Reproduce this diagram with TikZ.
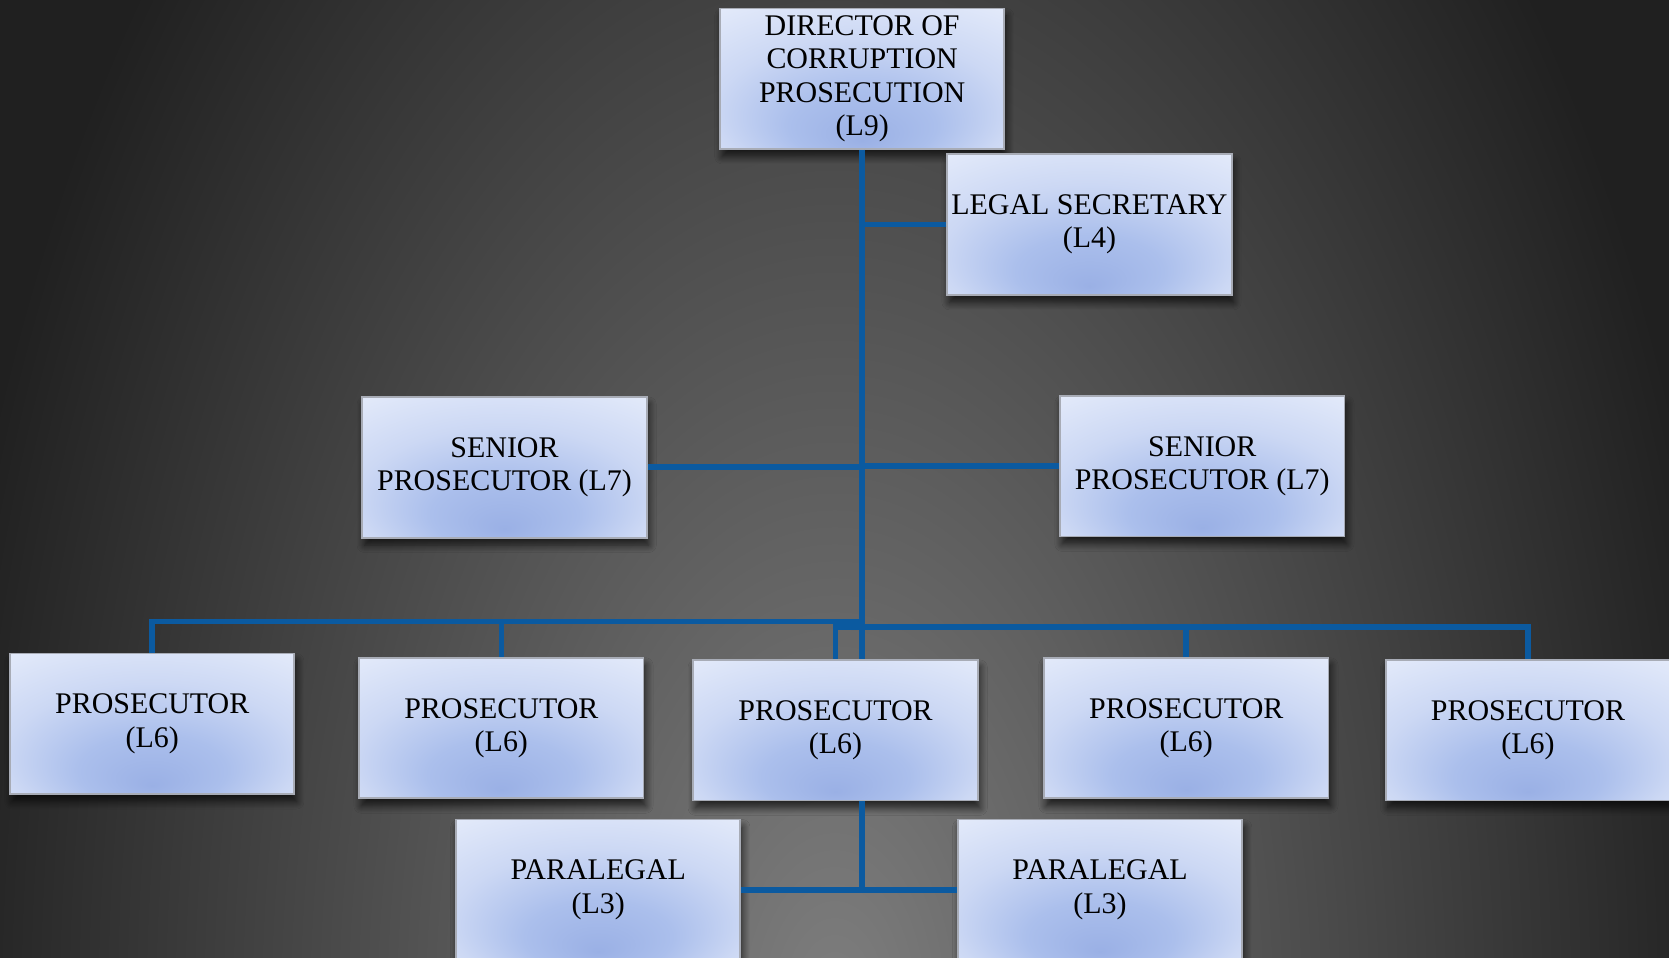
\documentclass[tikz,border=0pt]{standalone}
\usepackage{fontspec}
\setmainfont{Liberation Serif}
\usetikzlibrary{shadows.blur}
\definecolor{bgin}{HTML}{7E7E7E}
\definecolor{bgout}{HTML}{202020}
\definecolor{linkblue}{HTML}{0B5AA0}
\definecolor{boxdeep}{HTML}{9AB0E5}
\definecolor{boxmid}{HTML}{ABBFEC}
\definecolor{boxpale}{HTML}{CCD8F4}
\definecolor{boxlight}{HTML}{E3EAFA}
\definecolor{boxwhite}{HTML}{F0F4FD}
\definecolor{boxedge}{HTML}{A8ACB6}
\pgfdeclareradialshading{bgshade}{\pgfpointorigin}{color(0bp)=(bgin); color(25bp)=(bgout); color(50bp)=(bgout)}
\pgfdeclareradialshading{boxshade}{\pgfpoint{0bp}{-22bp}}{color(0bp)=(boxdeep); color(13bp)=(boxmid); color(26bp)=(boxpale); color(40bp)=(boxlight); color(55bp)=(boxwhite)}

\begin{document}
\begin{tikzpicture}[x=.01cm,y=-.01cm,
		post/.style={rectangle,draw=boxedge,line width=.5pt,shade,shading=boxshade,
			minimum width=2.67cm,minimum height=1.32cm,inner sep=1pt,align=center,
			font=\fontsize{8}{8.9}\selectfont,
			blur shadow={shadow xshift=.2mm,shadow yshift=-.7mm,shadow blur radius=.7mm,shadow blur steps=8,shadow opacity=70}},
		link/.style={linkblue,line width=1.5pt}]
		\useasboundingbox (0,0) rectangle (1568,900);
		\clip (0,0) rectangle (1568,900);
		\fill[bgout] (0,0) rectangle (1568,900);
		\shade[shading=bgshade] (-66,-550) rectangle (1634,2450);
		% boxes
		\node[post] (dir) at (810,74) {DIRECTOR OF\\CORRUPTION\\PROSECUTION\\(L9)};
		\node[post] (sec) at (1023.5,211) {LEGAL SECRETARY\\(L4)};
		\node[post] (senL) at (474,439) {SENIOR\\PROSECUTOR (L7)};
		\node[post] (senR) at (1129.5,438) {SENIOR\\PROSECUTOR (L7)};
		\node[post] (pr1) at (143,680) {PROSECUTOR\\(L6)};
		\node[post] (pr2) at (471,684) {PROSECUTOR\\(L6)};
		\node[post] (pr3) at (785,686) {PROSECUTOR\\(L6)};
		\node[post] (pr4) at (1114.5,684) {PROSECUTOR\\(L6)};
		\node[post] (pr5) at (1435.5,686) {PROSECUTOR\\(L6)};
		\node[post] (paraL) at (562,836) {PARALEGAL\\(L3)};
		\node[post] (paraR) at (1033.5,836) {PARALEGAL\\(L3)};
		% lines
		\coordinate (busL) at (143,584);
		\coordinate (busR) at (1435.5,589);
		\draw[link] (dir.south) -- (dir.south |- pr3.north);
		\draw[link] (sec.west) -- (sec.west -| dir.south);
		\draw[link] (senL.east) -- (senL.east -| dir.south);
		\draw[link] (senR.west) -- (senR.west -| dir.south);
		\draw[link] (pr1.north) -- (busL) -- (busL -| dir.south);
		\draw[link] (pr2.north) -- (pr2.north |- busL);
		\draw[link] (pr3.north) |- (busR) -- (pr5.north);
		\draw[link] (pr4.north) -- (pr4.north |- busR);
		\draw[link] (pr3.south -| dir.south) -- (paraL.east -| dir.south);
		\draw[link] (paraL.east) -- (paraR.west);
	\end{tikzpicture}
\end{document}
